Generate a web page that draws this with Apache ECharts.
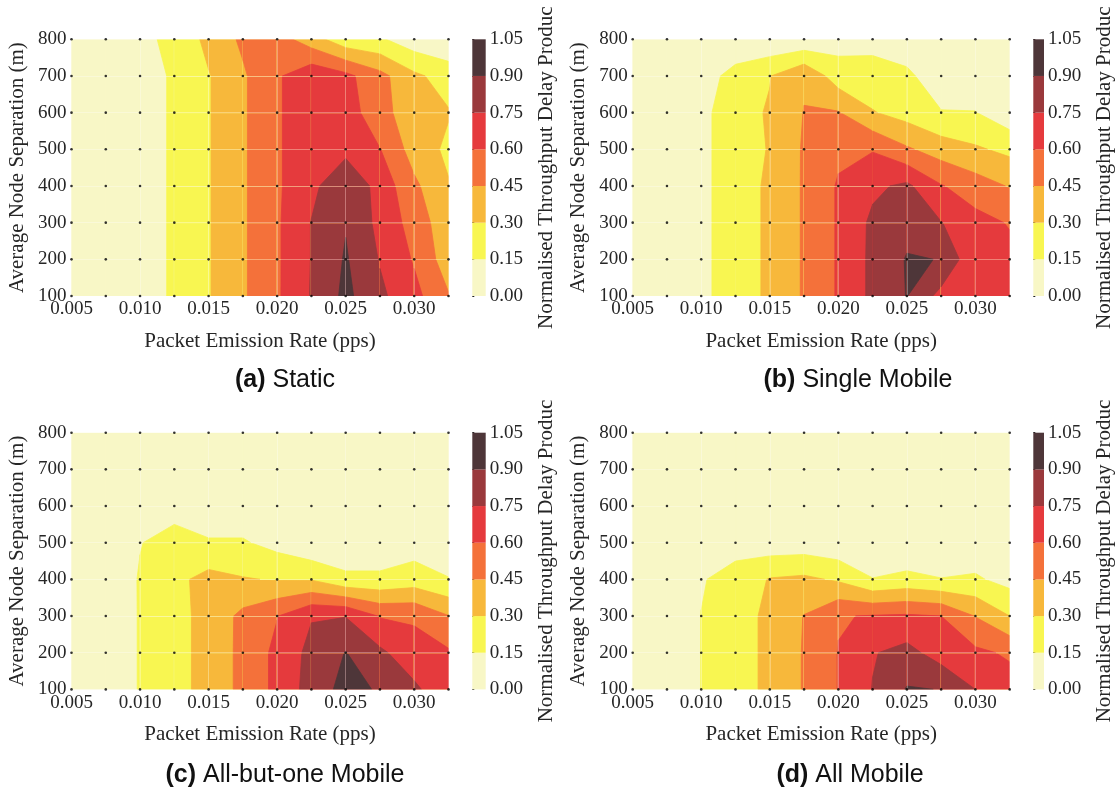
<!DOCTYPE html>
<html><head><meta charset="utf-8">
<script src="https://cdn.jsdelivr.net/npm/echarts@6/dist/echarts.min.js"></script>
<style>html,body{margin:0;padding:0;background:#fff}#c{width:1116px;height:790px}</style>
</head><body><div id="c"></div>
<script>
// ---- data ----
const rates = [0.005,0.0075,0.010,0.0125,0.015,0.0175,0.020,0.0225,0.025,0.0275,0.030,0.0325];
const separations = [100,200,300,400,500,600,700,800];
const levels = [0,0.15,0.30,0.45,0.60,0.75,0.90,1.05];
const levelColors = ['#f8f7c6','#f8f651','#f7b83b','#f4713a','#e53a3d','#9a393c','#4e3639'];
// rows: separation 100 (first) .. 800 (last); columns follow rates
const staticZ = [
 [0.03,0.04,0.08,0.17,0.29,0.43,0.58,0.76,0.936,0.78,0.645,0.46],
 [0.03,0.04,0.08,0.17,0.29,0.43,0.58,0.755,0.915,0.74,0.585,0.37],
 [0.03,0.04,0.08,0.17,0.29,0.43,0.58,0.755,0.89,0.707,0.54,0.35],
 [0.03,0.04,0.08,0.17,0.29,0.43,0.58,0.71,0.877,0.695,0.48,0.31],
 [0.03,0.04,0.08,0.17,0.29,0.43,0.58,0.71,0.708,0.605,0.384,0.27],
 [0.03,0.04,0.08,0.17,0.29,0.43,0.58,0.71,0.70,0.47,0.417,0.31],
 [0.03,0.04,0.08,0.17,0.29,0.43,0.58,0.71,0.64,0.497,0.33,0.236],
 [0.03,0.04,0.13,0.17,0.345,0.476,0.518,0.37,0.20,0.17,0.06,0.02]
];
const singleMobileZ = [
 [0.03,0.04,0.10,0.26,0.314,0.467,0.615,0.784,0.905,0.70,0.72,0.70],
 [0.03,0.04,0.10,0.26,0.314,0.467,0.615,0.784,0.91,0.897,0.62,0.64],
 [0.03,0.04,0.10,0.26,0.314,0.467,0.615,0.78,0.85,0.755,0.65,0.59],
 [0.03,0.04,0.10,0.26,0.314,0.467,0.615,0.72,0.78,0.61,0.52,0.44],
 [0.03,0.04,0.10,0.26,0.305,0.467,0.57,0.59,0.47,0.38,0.32,0.264],
 [0.03,0.04,0.10,0.26,0.31,0.455,0.46,0.31,0.24,0.155,0.155,0.05],
 [0.03,0.04,0.06,0.22,0.295,0.43,0.22,0.20,0.17,0.09,0.05,0.04],
 [0.02,0.02,0.02,0.00,0.02,0.03,0.09,0.11,0.09,0.05,0.04,0.03]
];
const allButOneZ = [
 [0.03,0.05,0.159,0.26,0.34,0.493,0.636,0.811,0.95,0.884,0.78,0.637],
 [0.03,0.05,0.159,0.26,0.34,0.493,0.636,0.794,0.905,0.78,0.655,0.62],
 [0.03,0.05,0.159,0.26,0.34,0.49,0.595,0.74,0.745,0.59,0.58,0.455],
 [0.03,0.05,0.16,0.26,0.35,0.31,0.29,0.29,0.18,0.18,0.22,0.155],
 [0.03,0.05,0.145,0.20,0.165,0.165,0.10,0.02,0.05,0.05,0.08,0.08],
 [0.02,0.03,0.05,0.10,0.05,0.05,0.05,0.03,0.03,0.03,0.04,0.04],
 [0.02,0.02,0.03,0.03,0.03,0.03,0.03,0.03,0.02,0.02,0.03,0.03],
 [0.02,0.02,0.02,0.02,0.02,0.02,0.02,0.02,0.02,0.02,0.02,0.02]
];
const allMobileZ = [
 [0.03,0.05,0.152,0.25,0.326,0.461,0.605,0.755,0.91,0.897,0.75,0.66],
 [0.03,0.05,0.152,0.25,0.326,0.461,0.605,0.74,0.80,0.68,0.63,0.58],
 [0.03,0.05,0.152,0.25,0.326,0.455,0.59,0.61,0.62,0.60,0.445,0.30],
 [0.03,0.05,0.14,0.20,0.31,0.33,0.28,0.155,0.193,0.155,0.17,0.10],
 [0.03,0.05,0.08,0.10,0.06,0.065,0.035,0.03,0.01,0.03,0.05,0.05],
 [0.02,0.03,0.04,0.04,0.03,0.03,0.03,0.02,0.02,0.02,0.03,0.03],
 [0.02,0.02,0.02,0.02,0.02,0.02,0.02,0.02,0.02,0.02,0.02,0.02],
 [0.02,0.02,0.02,0.02,0.02,0.02,0.02,0.02,0.02,0.02,0.02,0.02]
];
const captionTags = ['(a)','(b)','(c)','(d)'];
const captionNames = ['Static','Single Mobile','All-but-one Mobile','All Mobile'];
const xAxisTitle = 'Packet Emission Rate (pps)';
const yAxisTitle = 'Average Node Separation (m)';
const colorbarTitle = 'Normalised Throughput Delay Produc';

// ---- layout ----
const panels = [
 {z: staticZ,       left: 71.5,  top: 39.3,  cb: 472.3,  capX: 285, capY: 380},
 {z: singleMobileZ, left: 632.7, top: 39.3,  cb: 1033.3, capX: 858, capY: 380},
 {z: allButOneZ,    left: 71.5,  top: 432.7, cb: 472.3,  capX: 285, capY: 775},
 {z: allMobileZ,    left: 632.7, top: 432.7, cb: 1033.3, capX: 850, capY: 775}
];
const PW = 377, PH = 256.7, CBW = 13.4;
const serif = 'Liberation Serif';
const txt = '#262626';

// region of a grid cell where value >= t (edge crossings linearly placed, joined by straight lines)
function clipAbove(poly, t) {
  const out = [];
  const n = poly.length;
  for (let k = 0; k < n; k++) {
    const a = poly[k], b = poly[(k + 1) % n];
    const ia = a[2] >= t, ib = b[2] >= t;
    if (ia) out.push(a);
    if (ia !== ib) {
      const f = (t - a[2]) / (b[2] - a[2]);
      out.push([a[0] + f * (b[0] - a[0]), a[1] + f * (b[1] - a[1]), t]);
    }
  }
  return out;
}

function contourSeries(Z, idx) {
  const data = [];
  for (let j = 0; j < separations.length - 1; j++)
    for (let i = 0; i < rates.length - 1; i++)
      data.push([rates[i], separations[j], i, j]);
  return {
    type: 'custom', xAxisIndex: idx * 2, yAxisIndex: idx * 2, z: 2, silent: true,
    clip: true, encode: {x: 0, y: 1}, data,
    renderItem(params, api) {
      const i = api.value(2), j = api.value(3);
      const pt = (ii, jj) => {
        const p = api.coord([rates[ii], separations[jj]]);
        return [p[0], p[1], Z[jj][ii]];
      };
      const q = [pt(i, j), pt(i + 1, j), pt(i + 1, j + 1), pt(i, j + 1)];
      const children = [{
        type: 'polygon', shape: {points: q.map(p => [p[0], p[1]])},
        style: {fill: levelColors[0], stroke: levelColors[0], lineWidth: 1}
      }];
      for (let k = 1; k < levelColors.length; k++) {
        const poly = clipAbove(q, levels[k]);
        if (poly.length < 3) continue;
        children.push({
          type: 'polygon',
          shape: {points: poly.map(p => [p[0], p[1]])},
          style: {fill: levelColors[k], stroke: levelColors[k], lineWidth: 0.8, lineJoin: 'round'}
        });
      }
      return {type: 'group', children};
    }
  };
}

function colorbarSeries(idx) {
  const data = [];
  for (let k = 0; k < levelColors.length; k++) data.push([0.5, (levels[k] + levels[k + 1]) / 2, k]);
  return {
    type: 'custom', xAxisIndex: idx * 2 + 1, yAxisIndex: idx * 2 + 1, silent: true,
    encode: {x: 0, y: 1}, data,
    renderItem(params, api) {
      const k = api.value(2);
      const p1 = api.coord([0, levels[k + 1]]);
      const p2 = api.coord([1, levels[k]]);
      return {type: 'rect', shape: {x: p1[0], y: p1[1], width: p2[0] - p1[0], height: p2[1] - p1[1]},
              style: {fill: levelColors[k]}};
    }
  };
}

function dotSeries(idx) {
  const data = [];
  for (const s of separations) for (const r of rates) data.push([r, s]);
  return {type: 'scatter', xAxisIndex: idx * 2, yAxisIndex: idx * 2, z: 4, silent: true,
          symbolSize: 2.6, itemStyle: {color: '#000'}, data, clip: false};
}

const grid = [], xAxis = [], yAxis = [], series = [], graphic = [];
panels.forEach((p, idx) => {
  grid.push({left: p.left, top: p.top, width: PW, height: PH});
  grid.push({left: p.cb, top: p.top, width: CBW, height: PH});
  xAxis.push({
    gridIndex: idx * 2, type: 'value', min: 0.005, max: 0.0325, interval: 0.005, z: 3,
    axisLine: {show: false}, axisTick: {show: false},
    splitLine: {show: true, lineStyle: {color: 'rgba(255,255,255,0.3)', width: 1}},
    axisLabel: {formatter: v => v.toFixed(3), showMaxLabel: false, fontFamily: serif, fontSize: 19, color: txt, margin: 4},
    name: xAxisTitle, nameLocation: 'middle', nameGap: 35,
    nameTextStyle: {fontFamily: serif, fontSize: 21, color: txt}
  });
  xAxis.push({gridIndex: idx * 2 + 1, type: 'value', min: 0, max: 1, show: false});
  yAxis.push({
    gridIndex: idx * 2, type: 'value', min: 100, max: 800, interval: 100, z: 3,
    axisLine: {show: false}, axisTick: {show: false},
    splitLine: {show: true, lineStyle: {color: 'rgba(255,255,255,0.3)', width: 1}},
    axisLabel: {fontFamily: serif, fontSize: 19, color: txt, margin: 5},
    name: yAxisTitle, nameLocation: 'middle', nameGap: 44, nameRotate: 90,
    nameTextStyle: {fontFamily: serif, fontSize: 21, color: txt}
  });
  yAxis.push({
    gridIndex: idx * 2 + 1, type: 'value', min: 0, max: 1.05, interval: 0.15, position: 'right',
    axisLine: {show: false}, axisTick: {show: true, length: 2, lineStyle: {color: '#222'}},
    splitLine: {show: false},
    axisLabel: {formatter: v => v.toFixed(2), fontFamily: serif, fontSize: 19, color: txt, margin: 4},
    name: colorbarTitle, nameLocation: 'middle', nameGap: 50, nameRotate: 90,
    nameTextStyle: {fontFamily: serif, fontSize: 21, color: txt}
  });
  series.push(contourSeries(p.z, idx));
  series.push(dotSeries(idx));
  series.push(colorbarSeries(idx));
  graphic.push({
    type: 'text', x: p.capX, y: p.capY, silent: true,
    style: {
      text: '{b|' + captionTags[idx] + '}{n| ' + captionNames[idx] + '}',
      align: 'center', verticalAlign: 'middle',
      rich: {
        b: {fontFamily: 'Liberation Sans', fontSize: 25, fontWeight: 'bold', fill: '#111', color: '#111'},
        n: {fontFamily: 'Liberation Sans', fontSize: 25, fill: '#111', color: '#111'}
      }
    }
  });
});

const chart = echarts.init(document.getElementById('c'), null, {renderer: 'canvas'});
chart.setOption({animation: false, backgroundColor: '#fff', grid, xAxis, yAxis, series, graphic});
</script></body></html>
